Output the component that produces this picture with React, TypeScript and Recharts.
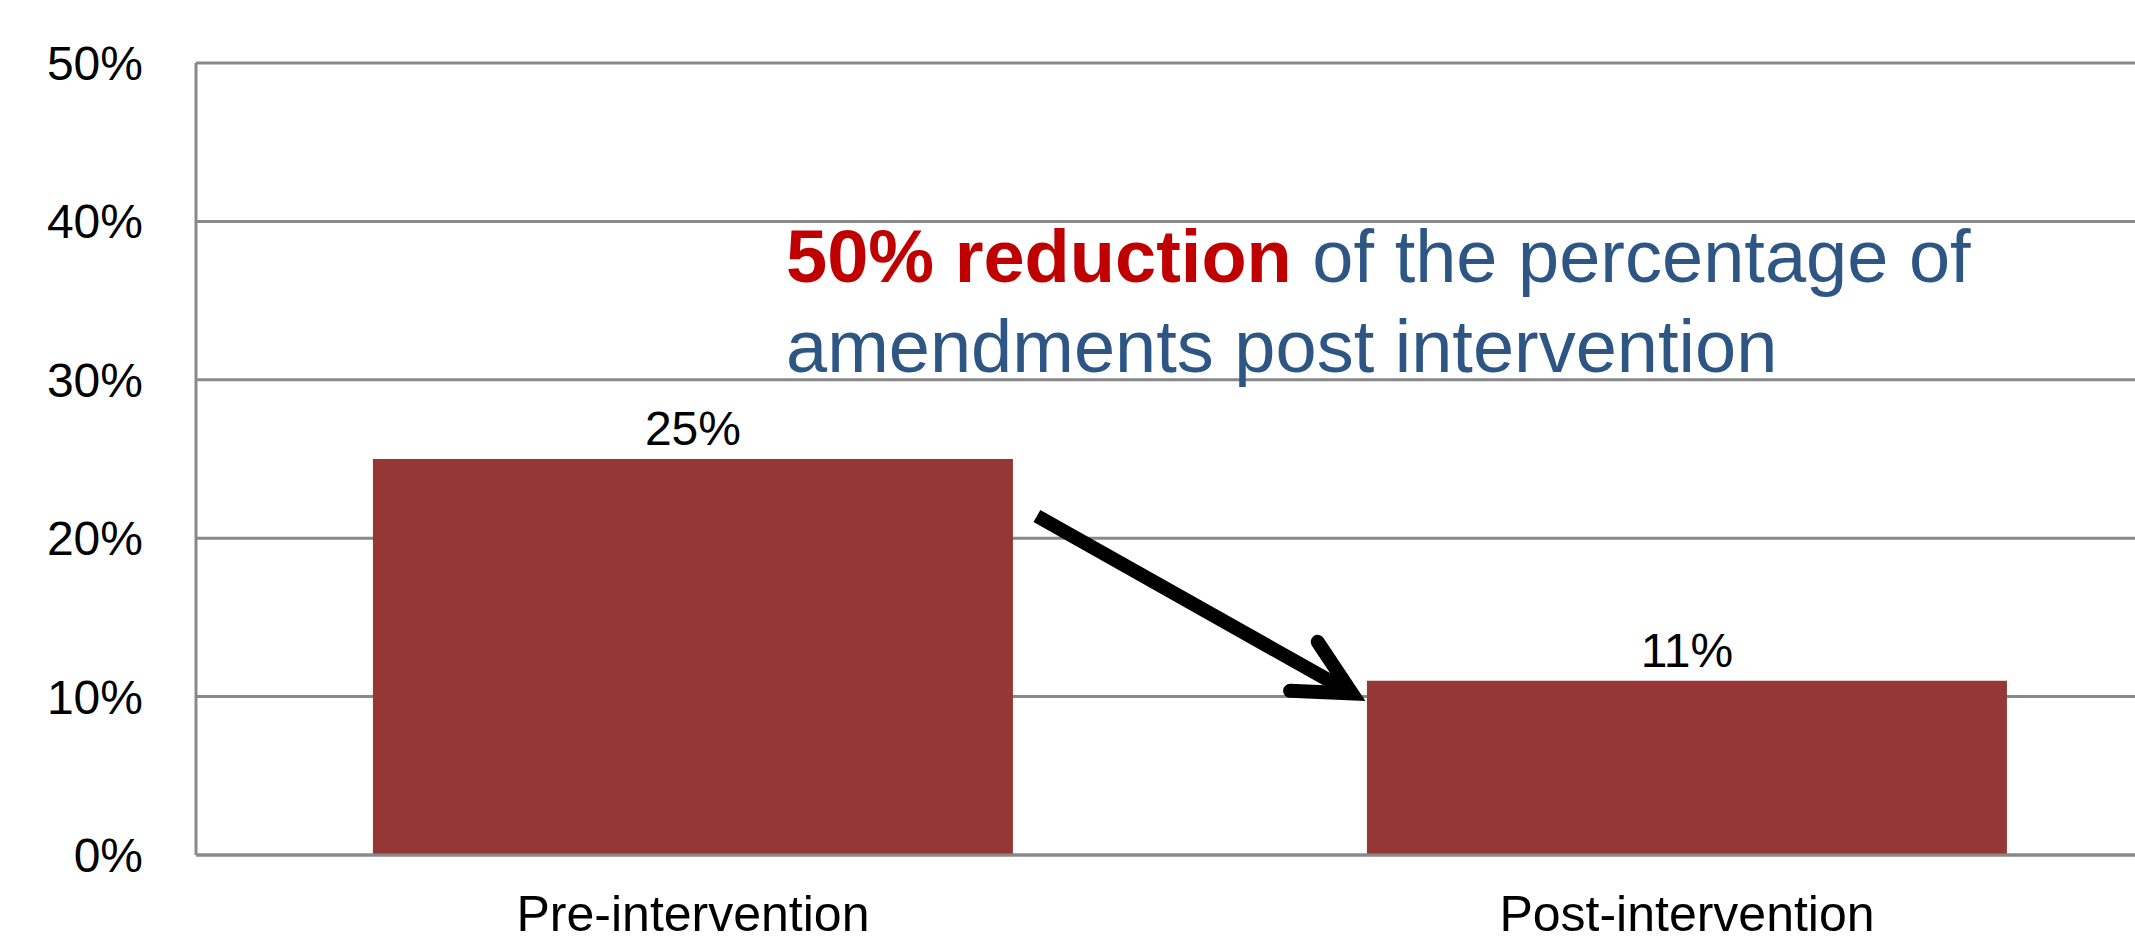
import { BarChart, Bar, XAxis, YAxis, CartesianGrid, LabelList, ReferenceLine } from 'recharts';

const categories = ['Pre-intervention', 'Post-intervention'];
const amendments = [25, 11];
const yTicks = [0, 10, 20, 30, 40, 50];
// arrow ends: x as a share of the plot width (hidden 0..1 axis), y in %
const arrowFrom = { x: 0.423, y: 21.4 };
const arrowTo = { x: 0.5815, y: 10.2 };

const data = categories.map((name, i) => ({ name, value: amendments[i] }));

const GRID = '#898989';

function Arrow(props: any) {
  const { x1, y1, x2, y2 } = props;
  const ang = Math.atan2(y2 - y1, x2 - x1);
  const len = 62;
  const spread = (27 * Math.PI) / 180;
  const bx1 = x2 - len * Math.cos(ang - spread);
  const by1 = y2 - len * Math.sin(ang - spread);
  const bx2 = x2 - len * Math.cos(ang + spread);
  const by2 = y2 - len * Math.sin(ang + spread);
  return (
    <g>
      <line x1={x1} y1={y1} x2={x2} y2={y2} stroke="#000" strokeWidth={14} />
      <polyline
        points={`${bx1},${by1} ${x2},${y2} ${bx2},${by2}`}
        fill="none"
        stroke="#000"
        strokeWidth={14}
        strokeLinecap="round"
        strokeLinejoin="miter"
      />
    </g>
  );
}

export default function App() {
  return (
    <div
      style={{
        position: 'absolute',
        left: 0,
        top: 0,
        width: 2135,
        height: 943,
        overflow: 'hidden',
        background: '#fff',
        fontFamily: '"Liberation Sans", Arial, sans-serif',
      }}
    >
      <BarChart
        width={2184}
        height={943}
        data={data}
        margin={{ top: 63, right: 0, left: 0, bottom: 0 }}
        barCategoryGap="17.8%"
      >
        <CartesianGrid vertical={false} stroke={GRID} strokeWidth={3} />
        <XAxis
          dataKey="name"
          axisLine={{ stroke: GRID, strokeWidth: 3 }}
          tickLine={false}
          tickMargin={34}
          height={88}
          tick={{ fill: '#000', fontSize: 50 }}
        />
        <XAxis
          xAxisId="arrow"
          type="number"
          scale="linear"
          domain={[0, 1]}
          allowDataOverflow
          hide
        />
        <YAxis
          domain={[0, 50]}
          ticks={yTicks}
          width={196}
          axisLine={{ stroke: GRID, strokeWidth: 3 }}
          tickLine={false}
          tickMargin={47}
          tickFormatter={(v) => `${v}%`}
          tick={{ fill: '#000', fontSize: 48 }}
        />
        <Bar dataKey="value" fill="#953735" isAnimationActive={false}>
          <LabelList
            dataKey="value"
            position="top"
            offset={14}
            formatter={(v: any) => `${v}%`}
            style={{ fill: '#000', fontSize: 48 }}
          />
        </Bar>
        <ReferenceLine
          xAxisId="arrow"
          segment={[arrowFrom, arrowTo]}
          shape={Arrow}
          ifOverflow="visible"
        />
      </BarChart>
      <div
        style={{
          position: 'absolute',
          left: 786,
          top: 212,
          fontSize: 74,
          lineHeight: '90px',
          color: '#2D5685',
          whiteSpace: 'nowrap',
        }}
      >
        <span style={{ color: '#C00000', fontWeight: 'bold' }}>50% reduction</span> of the percentage of
        <br />
        amendments post intervention
      </div>
    </div>
  );
}
